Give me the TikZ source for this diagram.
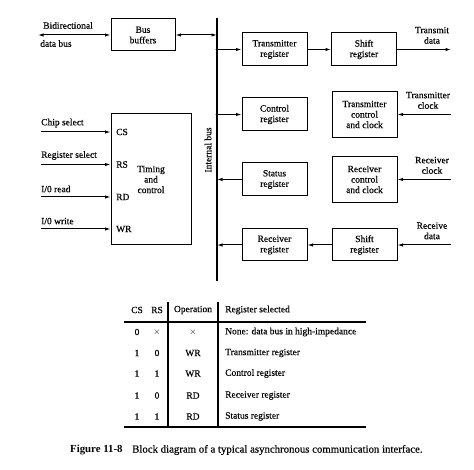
\documentclass[tikz,border=0pt]{standalone}
\usepackage{fontspec}
\setmainfont{Liberation Serif}[UprightFeatures={FakeBold=0.3}]
\usetikzlibrary{arrows.meta}
\tikzset{
  blk/.style={draw, line width=1pt, rectangle, align=center, inner sep=1pt, font=\fontsize{9.5}{10.5}\selectfont},
  lbl/.style={align=center, inner sep=1pt, font=\fontsize{9.5}{10.5}\selectfont},
  ar/.style={line width=1pt, -{Latex[length=5.5pt,width=3.4pt]}},
  biar/.style={line width=1pt, {Latex[length=5.5pt,width=3.4pt]}-{Latex[length=5.5pt,width=3.4pt]}},
  busl/.style={line width=1.4pt},
  rule/.style={line width=1.1pt},
  tx/.style={inner sep=0pt, font=\fontsize{9.5}{10.5}\selectfont}
}
\begin{document}
\begin{tikzpicture}[x=1pt,y=-1pt]
\useasboundingbox (0,0) rectangle (474,470);
% blocks
\node[blk, minimum width=64pt, minimum height=32pt] (bb) at (143,35) {Bus\\buffers};
\node[blk, minimum width=65pt, minimum height=33pt] (tr) at (274.5,49.5) {Transmitter\\register};
\node[blk, minimum width=65pt, minimum height=33pt] (sr1) at (364,49.5) {Shift\\register};
\node[blk, minimum width=65pt, minimum height=33pt] (cr) at (274.5,114.5) {Control\\register};
\node[blk, minimum width=65pt, minimum height=46pt] (tcc) at (364.5,114.5) {Transmitter\\control\\and clock};
\node[blk, minimum width=65pt, minimum height=33pt] (st) at (274.5,179.5) {Status\\register};
\node[blk, minimum width=65pt, minimum height=46pt] (rcc) at (364.5,179.5) {Receiver\\control\\and clock};
\node[blk, minimum width=65pt, minimum height=32pt] (rr) at (274.5,245) {Receiver\\register};
\node[blk, minimum width=65pt, minimum height=32pt] (sr2) at (364.5,245) {Shift\\register};
\node[blk, minimum width=80pt, minimum height=131pt] (tc) at (151,179.5) {Timing\\and\\control};
\node[tx, anchor=west] (cs) at (116,132) {CS};
\node[tx, anchor=west] (rs) at (116,164.5) {RS};
\node[tx, anchor=west] (rd) at (116,197) {RD};
\node[tx, anchor=west] (wr) at (116,229) {WR};
% internal bus
\coordinate (btop) at (217,18);
\coordinate (bbot) at (217,281);
\draw[busl] (btop) -- (bbot);
\node[lbl, rotate=90] (ib) at (208,150) {Internal bus};
\coordinate (j0) at (217,35);
\coordinate (j1) at (217,49.5);
\coordinate (j2) at (217,114.5);
\coordinate (j3) at (217,179.5);
\coordinate (j4) at (217,245);
\fill (j1) circle (1.5pt);
\fill (j2) circle (1.5pt);
% left bidirectional bus
\coordinate (dl) at (38,35);
\draw[biar] (dl) -- (bb.west);
\node[lbl, anchor=south west] (bdl) at (42,30) {Bidirectional};
\node[lbl, anchor=north west] (dbl) at (39,39) {data bus};
\draw[biar] (bb.east) -- (j0);
% bus to registers
\draw[ar] (j1) -- (tr.west);
\draw[ar] (tr.east) -- (sr1.west);
\draw[ar] (j2) -- (cr.west);
\draw[ar] (st.west) -- (j3);
\draw[ar] (rr.west) -- (j4);
\draw[ar] (sr2.west) -- (rr.east);
% right side signals
\coordinate (o1) at (451,49.5);
\coordinate (o2) at (451,114.5);
\coordinate (o3) at (451,179.5);
\coordinate (o4) at (451,245);
\draw[ar] (sr1.east) -- (o1);
\draw[ar] (o2) -- (tcc.east);
\draw[ar] (o3) -- (rcc.east);
\draw[ar] (o4) -- (sr2.east);
\node[lbl, anchor=south] (l1) at (432,45) {Transmit\\data};
\node[lbl, anchor=south] (l2) at (428,110) {Transmitter\\clock};
\node[lbl, anchor=south] (l3) at (432,175) {Receiver\\clock};
\node[lbl, anchor=south] (l4) at (432,240.5) {Receive\\data};
% timing inputs
\coordinate (i1) at (41,132);
\coordinate (i2) at (41,164.5);
\coordinate (i3) at (41,197);
\coordinate (i4) at (41,229);
\draw[ar] (i1) -- (i1 -| tc.west);
\draw[ar] (i2) -- (i2 -| tc.west);
\draw[ar] (i3) -- (i3 -| tc.west);
\draw[ar] (i4) -- (i4 -| tc.west);
\node[lbl, anchor=south west] (n1) at (40,128.5) {Chip select};
\node[lbl, anchor=south west] (n2) at (40,161) {Register select};
\node[lbl, anchor=south west] (n3) at (40,193.5) {I/0 read};
\node[lbl, anchor=south west] (n4) at (40,225.5) {I/0 write};
% table
\coordinate (v1t) at (168,302);
\coordinate (v1b) at (168,427);
\coordinate (v2t) at (218,302);
\coordinate (v2b) at (218,427);
\coordinate (h1l) at (124,322);
\coordinate (h1r) at (366,322);
\coordinate (h2l) at (124,427);
\coordinate (h2r) at (366,427);
\draw[rule] (v1t) -- (v1b);
\draw[rule] (v2t) -- (v2b);
\draw[rule] (h1l) -- (h1r);
\draw[rule] (h2l) -- (h2r);
\node[tx] (hcs) at (137,310) {CS};
\node[tx] (hrs) at (157,310) {RS};
\node[tx] (hop) at (193,310) {Operation};
\node[tx, anchor=west] (hreg) at (225,310) {Register selected};
\foreach \y/\a/\b/\c/\d [count=\i] in {332/0/$\times$/$\times$/None: data bus in high-impedance,
  353/1/0/WR/Transmitter register,
  373.5/1/1/WR/Control register,
  395.5/1/0/RD/Receiver register,
  416.5/1/1/RD/Status register}{
  \node[tx] (ca\i) at (137,\y) {\a};
  \node[tx] (cb\i) at (157,\y) {\b};
  \node[tx] (cc\i) at (193,\y) {\c};
  \node[tx, anchor=west] (cd\i) at (225,\y) {\d};
}
% caption
\node[tx, anchor=west, font=\fontsize{10.8}{12}\selectfont] (cap) at (70,450) {\textbf{Figure 11-8}\hspace{0.9em}Block diagram of a typical asynchronous communication interface.};
\end{tikzpicture}
\end{document}
